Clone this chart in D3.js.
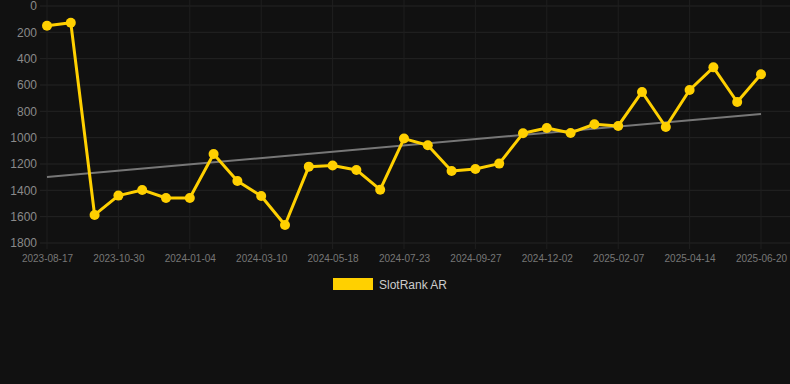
<!DOCTYPE html>
<html>
<head>
<meta charset="utf-8">
<script src="https://cdn.jsdelivr.net/npm/d3@7"></script>
<style>
    html, body { margin: 0; padding: 0; background: #111111; }
    #chart { width: 790px; height: 384px; }
    text { font-family: "Liberation Sans", Arial, sans-serif; }
</style>
</head>
<body>
<div id="chart"></div>
<script>
"use strict"

// dates of each data point (only every 3rd one is labelled)
let dates = [
    "2023-08-17", "2023-09-11", "2023-10-05", "2023-10-30", "2023-11-21", "2023-12-13",
    "2024-01-04", "2024-01-26", "2024-02-17", "2024-03-10", "2024-04-02", "2024-04-25",
    "2024-05-18", "2024-06-09", "2024-07-01", "2024-07-23", "2024-08-14", "2024-09-05",
    "2024-09-27", "2024-10-19", "2024-11-10", "2024-12-02", "2024-12-24", "2025-01-16",
    "2025-02-07", "2025-03-01", "2025-03-23", "2025-04-14", "2025-05-06", "2025-05-28",
    "2025-06-20"
];

// rank values
let ranks = [
    150, 127, 1587, 1440, 1397, 1458, 1458, 1124, 1329, 1443, 1663, 1220,
    1212, 1245, 1395, 1007, 1058, 1253, 1238, 1197, 967, 926, 964, 898,
    911, 653, 919, 638, 466, 729, 519
];

// trend line at first and last date
let trend = [1298, 820];

let yTicks = [0, 200, 400, 600, 800, 1000, 1200, 1400, 1600, 1800];
let seriesName = "SlotRank AR";
let lineColor = "#ffd000";

let svg = d3.select("#chart").append("svg")
    .attr("width", 790)
    .attr("height", 384);

let x = d3.scalePoint()
    .domain(dates)
    .range([47, 761]);

let y = d3.scaleLinear()
    .domain([0, 1800])
    .range([6, 243]);

let labelled = dates.filter(function(d, i) { return i % 3 === 0; });

drawGrid();
drawAxes();
drawTrend();
drawSeries();
drawLegend();

function drawGrid() {
    svg.append("g")
        .selectAll("line")
        .data(yTicks)
        .join("line")
        .attr("x1", 40)
        .attr("x2", 790)
        .attr("y1", function(d) { return y(d); })
        .attr("y2", function(d) { return y(d); })
        .style("stroke", "#242424")
        .style("stroke-width", "1px");

    svg.append("g")
        .selectAll("line")
        .data(labelled)
        .join("line")
        .attr("x1", function(d) { return x(d); })
        .attr("x2", function(d) { return x(d); })
        .attr("y1", 0)
        .attr("y2", 249)
        .style("stroke", "#1f1f1f")
        .style("stroke-width", "1px");
}

function drawAxes() {
    let yAxis = svg.append("g")
        .attr("transform", "translate(37,0)")
        .call(d3.axisLeft(y).tickValues(yTicks).tickFormat(d3.format("d")).tickSize(0).tickPadding(0));
    yAxis.select(".domain").remove();
    yAxis.selectAll("text")
        .style("font-size", "12px")
        .style("fill", "#8a8a8a");

    let xAxis = svg.append("g")
        .attr("transform", "translate(0,249)")
        .call(d3.axisBottom(x).tickValues(labelled).tickSize(0).tickPadding(6));
    xAxis.select(".domain").remove();
    xAxis.selectAll("text")
        .style("font-size", "10px")
        .style("fill", "#777777");
}

function drawTrend() {
    svg.append("line")
        .attr("x1", x(dates[0]))
        .attr("y1", y(trend[0]))
        .attr("x2", x(dates[dates.length - 1]))
        .attr("y2", y(trend[1]))
        .style("stroke", "#777777")
        .style("stroke-width", "2px");
}

function drawSeries() {
    let lineFunc = d3.line()
        .x(function(d, i) { return x(dates[i]); })
        .y(function(d) { return y(d); });

    svg.append("path")
        .attr("d", lineFunc(ranks))
        .style("stroke", lineColor)
        .style("stroke-width", "3px")
        .style("stroke-linejoin", "round")
        .style("fill", "none");

    svg.append("g")
        .selectAll("circle")
        .data(ranks)
        .join("circle")
        .attr("cx", function(d, i) { return x(dates[i]); })
        .attr("cy", function(d) { return y(d); })
        .attr("r", 5)
        .style("fill", lineColor);
}

function drawLegend() {
    svg.append("rect")
        .attr("x", 333)
        .attr("y", 278)
        .attr("width", 40)
        .attr("height", 12)
        .style("fill", lineColor);

    svg.append("text")
        .attr("x", 379)
        .attr("y", 289)
        .style("font-size", "12px")
        .style("fill", "#cccccc")
        .text(seriesName);
}
</script>
</body>
</html>
